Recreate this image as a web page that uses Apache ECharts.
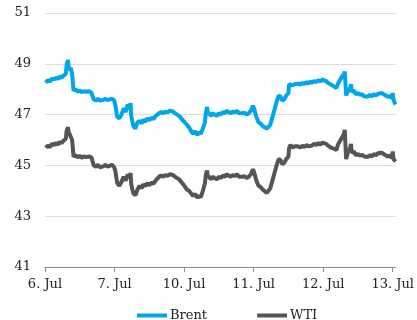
<!DOCTYPE html>
<html>
<head>
<meta charset="utf-8">
<script src="https://cdn.jsdelivr.net/npm/echarts@6/dist/echarts.min.js"></script>
<style>
  html, body { margin: 0; padding: 0; background: #fff; }
  #chart { width: 417px; height: 320px; }
</style>
</head>
<body>
<div id="chart"></div>
<script>
// Trading-day axis labels (weekend skipped)
const dayLabels = ['6. Jul', '7. Jul', '10. Jul', '11. Jul', '12. Jul', '13. Jul'];

// Position of each quote in trading days since 6 Jul open
const sessionPos = [
  0.01, 0.04, 0.07, 0.10, 0.13, 0.16, 0.19, 0.21, 0.24, 0.27, 0.30, 0.31, 0.33, 0.34, 0.36, 0.37, 0.39, 0.40, 0.41, 0.44,
  0.47, 0.50, 0.53, 0.56, 0.59, 0.61, 0.64, 0.67, 0.70, 0.73, 0.76, 0.79, 0.81, 0.84, 0.87, 0.90, 0.93, 0.96, 0.99, 1.01,
  1.03, 1.04, 1.07, 1.10, 1.13, 1.16, 1.19, 1.21, 1.23, 1.24, 1.27, 1.30, 1.33, 1.36, 1.39, 1.41, 1.44, 1.47, 1.50, 1.53,
  1.56, 1.59, 1.61, 1.64, 1.67, 1.70, 1.73, 1.76, 1.79, 1.81, 1.84, 1.87, 1.90, 1.93, 1.96, 1.99, 2.01, 2.04, 2.07, 2.10,
  2.13, 2.16, 2.19, 2.21, 2.24, 2.27, 2.30, 2.31, 2.33, 2.34, 2.36, 2.39, 2.41, 2.44, 2.47, 2.50, 2.53, 2.56, 2.59, 2.61,
  2.64, 2.67, 2.70, 2.73, 2.76, 2.79, 2.81, 2.84, 2.87, 2.90, 2.93, 2.96, 2.99, 3.00, 3.01, 3.04, 3.07, 3.10, 3.13, 3.16,
  3.19, 3.21, 3.24, 3.27, 3.30, 3.33, 3.36, 3.39, 3.41, 3.44, 3.47, 3.50, 3.51, 3.53, 3.56, 3.59, 3.61, 3.64, 3.67, 3.70,
  3.73, 3.76, 3.79, 3.81, 3.84, 3.87, 3.90, 3.93, 3.96, 3.99, 4.01, 4.04, 4.07, 4.10, 4.13, 4.16, 4.19, 4.21, 4.24, 4.27,
  4.30, 4.31, 4.33, 4.34, 4.36, 4.39, 4.40, 4.41, 4.44, 4.47, 4.50, 4.53, 4.56, 4.59, 4.61, 4.64, 4.67, 4.70, 4.73, 4.76,
  4.79, 4.81, 4.84, 4.87, 4.90, 4.93, 4.96, 4.99, 5.00, 5.01, 5.03, 5.04
];

// Brent, USD per barrel
const brent = [
  48.25, 48.35, 48.30, 48.42, 48.38, 48.45, 48.40, 48.50, 48.45, 48.55, 48.60, 48.95, 49.15, 48.90, 48.75, 48.85, 48.60, 48.30, 47.95, 48.00,
  47.90, 47.95, 47.88, 47.92, 47.90, 47.95, 47.92, 47.85, 47.60, 47.55, 47.62, 47.55, 47.60, 47.58, 47.62, 47.57, 47.60, 47.63, 47.58, 47.40,
  47.05, 46.90, 46.85, 47.00, 47.25, 47.10, 47.40, 47.20, 47.45, 46.95, 46.55, 46.45, 46.70, 46.75, 46.65, 46.80, 46.72, 46.85, 46.78, 46.88,
  46.82, 46.95, 46.90, 47.05, 47.10, 47.05, 47.12, 47.08, 47.15, 47.10, 47.12, 47.05, 47.00, 46.95, 46.85, 46.75, 46.70, 46.60, 46.50, 46.35,
  46.25, 46.35, 46.20, 46.30, 46.25, 46.45, 46.70, 47.00, 47.30, 47.10, 47.05, 46.95, 47.05, 47.00, 46.95, 47.05, 47.00, 47.10, 47.05, 47.15,
  47.10, 47.05, 47.12, 47.08, 47.15, 47.05, 47.10, 47.05, 47.08, 47.00, 47.05, 47.15, 47.35, 47.40, 47.20, 46.90, 46.70, 46.65, 46.55, 46.50,
  46.45, 46.40, 46.60, 46.90, 47.20, 47.50, 47.75, 47.70, 47.55, 47.60, 47.75, 47.85, 48.20, 48.25, 48.15, 48.20, 48.15, 48.22, 48.18, 48.25,
  48.20, 48.28, 48.22, 48.30, 48.25, 48.32, 48.28, 48.35, 48.30, 48.38, 48.40, 48.32, 48.25, 48.20, 48.15, 48.10, 48.05, 48.20, 48.35, 48.50,
  48.60, 48.70, 47.75, 47.70, 47.95, 48.05, 48.20, 47.90, 47.95, 47.80, 47.85, 47.78, 47.80, 47.72, 47.75, 47.70, 47.78, 47.72, 47.80, 47.75,
  47.82, 47.78, 47.85, 47.80, 47.75, 47.70, 47.72, 47.65, 47.85, 47.60, 47.45, 47.40
];

// WTI, USD per barrel
const wti = [
  45.70, 45.78, 45.72, 45.85, 45.80, 45.88, 45.82, 45.92, 45.88, 45.98, 46.05, 46.35, 46.50, 46.30, 46.20, 46.25, 46.00, 45.70, 45.35, 45.40,
  45.32, 45.38, 45.30, 45.36, 45.33, 45.40, 45.35, 45.30, 45.00, 44.95, 45.02, 44.93, 45.00, 44.96, 45.02, 44.95, 44.98, 45.03, 44.95, 44.80,
  44.45, 44.30, 44.20, 44.35, 44.55, 44.40, 44.65, 44.50, 44.70, 44.25, 43.90, 43.82, 44.05, 44.20, 44.10, 44.25, 44.18, 44.30, 44.22, 44.32,
  44.28, 44.40, 44.35, 44.55, 44.60, 44.55, 44.62, 44.58, 44.65, 44.60, 44.62, 44.55, 44.50, 44.45, 44.35, 44.25, 44.20, 44.05, 44.00, 43.90,
  43.80, 43.88, 43.72, 43.80, 43.75, 44.00, 44.30, 44.60, 44.80, 44.60, 44.55, 44.45, 44.55, 44.50, 44.45, 44.55, 44.50, 44.60, 44.55, 44.65,
  44.60, 44.55, 44.62, 44.58, 44.65, 44.55, 44.60, 44.55, 44.58, 44.50, 44.55, 44.65, 44.85, 44.90, 44.70, 44.40, 44.20, 44.15, 44.05, 43.98,
  43.92, 43.90, 44.10, 44.40, 44.70, 45.00, 45.25, 45.20, 45.05, 45.10, 45.25, 45.35, 45.70, 45.80, 45.70, 45.75, 45.68, 45.75, 45.70, 45.78,
  45.72, 45.80, 45.75, 45.82, 45.78, 45.85, 45.80, 45.88, 45.82, 45.90, 45.95, 45.85, 45.78, 45.72, 45.68, 45.65, 45.60, 45.80, 45.95, 46.10,
  46.25, 46.40, 45.25, 45.20, 45.55, 45.70, 45.85, 45.50, 45.55, 45.40, 45.45, 45.38, 45.42, 45.35, 45.38, 45.33, 45.40, 45.35, 45.45, 45.40,
  45.48, 45.45, 45.50, 45.45, 45.40, 45.35, 45.38, 45.30, 45.55, 45.25, 45.20, 45.15
];

const yTicks = [41, 43, 45, 47, 49, 51];

const pair = (vals) => sessionPos.map((t, i) => [t, vals[i]]);
const serif = '"DejaVu Serif", "Liberation Serif", serif';

const chart = echarts.init(document.getElementById('chart'), null, { renderer: 'canvas' });
chart.setOption({
  animation: false,
  backgroundColor: '#ffffff',
  grid: { left: 45, right: 19, top: 13, bottom: 53, containLabel: false },
  xAxis: {
    type: 'value',
    min: 0,
    max: 5.04,
    interval: 1,
    axisLine: { show: true, lineStyle: { color: '#8c8c8c', width: 1 } },
    axisTick: {
      show: true, inside: false, length: 5,
      lineStyle: { color: '#8c8c8c' },
      customValues: [0, 1, 2, 3, 4, 5]
    },
    axisLabel: {
      customValues: [0, 1, 2, 3, 4, 5],
      formatter: (v) => dayLabels[Math.round(v)] || '',
      color: '#222',
      fontFamily: serif,
      fontSize: 13,
      margin: 11
    },
    splitLine: { show: false }
  },
  yAxis: {
    type: 'value',
    min: yTicks[0],
    max: yTicks[yTicks.length - 1],
    interval: 2,
    axisLine: { show: false },
    axisTick: { show: false },
    axisLabel: { color: '#222', fontFamily: serif, fontSize: 13, margin: 14 },
    splitLine: { show: true, lineStyle: { color: '#dcdcdc', width: 1 } }
  },
  legend: {
    top: 304,
    left: 132,
    itemWidth: 30,
    itemHeight: 4,
    itemGap: 50,
    icon: 'rect',
    textStyle: { color: '#222', fontFamily: serif, fontSize: 13, padding: [0, 0, 0, -2] },
    data: ['Brent', 'WTI']
  },
  series: [
    {
      name: 'Brent', type: 'line', data: pair(brent), showSymbol: false,
      lineStyle: { color: '#00a6ea', width: 4 }, itemStyle: { color: '#00a6ea' }
    },
    {
      name: 'WTI', type: 'line', data: pair(wti), showSymbol: false,
      lineStyle: { color: '#555555', width: 4 }, itemStyle: { color: '#555555' }
    }
  ]
});
</script>
</body>
</html>
